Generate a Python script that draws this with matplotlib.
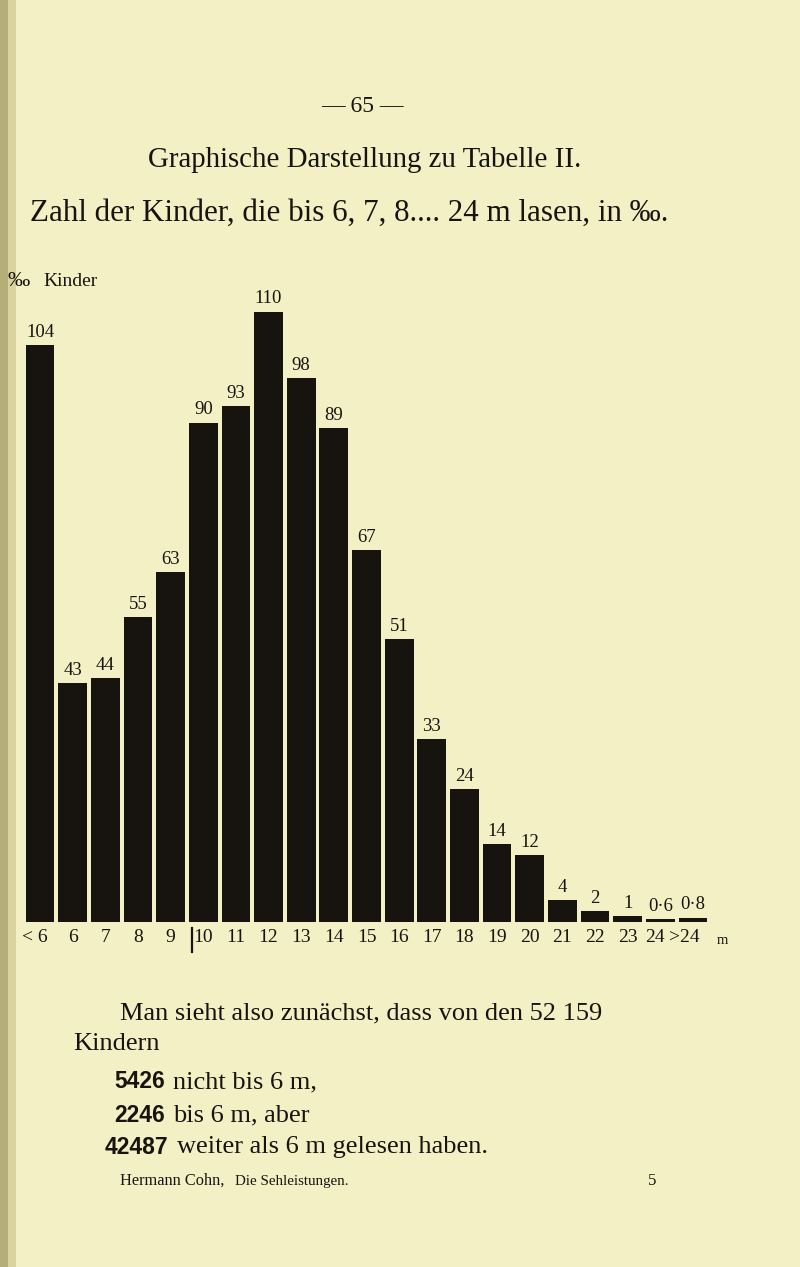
import matplotlib
matplotlib.use("Agg")
import matplotlib.pyplot as plt
import matplotlib.transforms as mtransforms
from matplotlib.patches import Rectangle

# ---- data ----
categories = ["< 6", "6", "7", "8", "9", "10", "11", "12", "13", "14", "15",
              "16", "17", "18", "19", "20", "21", "22", "23", "24", ">24"]
values = [104, 43, 44, 55, 63, 90, 93, 110, 98, 89, 67, 51, 33, 24, 14, 12,
          4, 2, 1, 0.6, 0.8]
value_labels = ["104", "43", "44", "55", "63", "90", "93", "110", "98", "89",
                "67", "51", "33", "24", "14", "12", "4", "2", "1", "0·6", "0·8"]

W, H = 800, 1267
BG = "#f3f0c5"
INK = "#17140f"
SERIF = ["Liberation Serif", "DejaVu Serif"]
BOLD = ["Liberation Sans", "DejaVu Sans"]

fig = plt.figure(figsize=(W / 100, H / 100), dpi=100, facecolor=BG)


def px(x, y):
    return x / W, 1 - y / H


def shift(label, dx):
    label.set_transform(label.get_transform() +
                        mtransforms.ScaledTranslation(dx / 100, 0, fig.dpi_scale_trans))


# binding strip on the left edge
fig.patches.append(Rectangle((0, 0), 8 / W, 1, transform=fig.transFigure,
                             facecolor="#b5ae78", edgecolor="none", zorder=0))
fig.patches.append(Rectangle((8 / W, 0), 8 / W, 1, transform=fig.transFigure,
                             facecolor="#d9d39f", edgecolor="none", zorder=0))

# ---- axes: bar centres at 40px .. 693px, baseline at y=922px ----
step = (693 - 40) / 20
left_px = 40 - step / 2
right_px = 693 + step / 2
base_px = 922
ymax = 120
scale = 5.55
ax = fig.add_axes([left_px / W, (H - base_px) / H, (right_px - left_px) / W,
                   ymax * scale / H])
ax.set_facecolor("none")
ax.set_xlim(-0.5, len(values) - 0.5)
ax.set_ylim(0, ymax)
for s in ax.spines.values():
    s.set_visible(False)
ax.tick_params(length=0)
ax.set_yticks([])

xs = list(range(len(values)))
ax.bar(xs, values, width=0.88, color=INK, edgecolor="none")

for x, v, lab in zip(xs, values, value_labels):
    ax.annotate(lab, (x, v), xytext=(0, 3), textcoords="offset points",
                ha="center", va="bottom", fontsize=13.5, family=SERIF,
                color=INK)

ax.set_xticks(xs)
ax.set_xticklabels(categories, fontsize=14, family=SERIF, color=INK)
ax.tick_params(axis="x", pad=5)
labs = ax.get_xticklabels()
shift(labs[0], -5)
shift(labs[-2], -5)
shift(labs[-1], -9)

# divider mark before "10"
trans = mtransforms.blended_transform_factory(ax.transData, ax.transAxes)
ax.plot([4.66, 4.66], [-0.009, -0.045], color=INK, lw=1.6,
        transform=trans, clip_on=False)
# unit "m"
ax.text(20.9, -0.0275, "m", transform=trans, ha="center", va="center",
        fontsize=10.5, family=SERIF, color=INK, clip_on=False)

# ---- page texts ----
fig.text(*px(362, 107), "— 65 —", ha="center", va="center", fontsize=17,
         family=SERIF, color=INK)
fig.text(*px(365, 160), "Graphische Darstellung zu Tabelle II.", ha="center",
         va="center", fontsize=20.8, family=SERIF, color=INK)
fig.text(*px(30, 213), "Zahl der Kinder, die bis 6, 7, 8.... 24 m lasen, in ‰.",
         ha="left", va="center", fontsize=22.3, family=SERIF, color=INK)
fig.text(*px(8, 282), "‰", ha="left", va="center", fontsize=16,
         family=SERIF, color=INK)
fig.text(*px(43, 282), "Kinder", ha="left", va="center", fontsize=14,
         family=SERIF, color=INK)

fig.text(*px(120, 1013), "Man sieht also zunächst, dass von den 52 159",
         ha="left", va="center", fontsize=19, family=SERIF, color=INK)
fig.text(*px(73, 1044), "Kindern", ha="left", va="center", fontsize=19,
         family=SERIF, color=INK)

rows = [("5426", "nicht bis 6 m,", 114, 1082),
        ("2246", "bis 6 m, aber", 114, 1115),
        ("42487", "weiter als 6 m gelesen haben.", 105, 1147)]
for num, rest, x0, y0 in rows:
    t = fig.text(*px(x0, y0), num, ha="left", va="center", fontsize=16.5,
                 family=BOLD, weight="bold", color=INK)
    fig.canvas.draw()
    bb = t.get_window_extent()
    fig.text(bb.x1 / W + 8 / W, 1 - y0 / H, rest, ha="left", va="center",
             fontsize=19, family=SERIF, color=INK)

fig.text(*px(120, 1181), "Hermann Cohn,", ha="left", va="center",
         fontsize=11.8, family=SERIF, color=INK)
fig.text(*px(235, 1181), "Die Sehleistungen.", ha="left", va="center",
         fontsize=10.8, family=SERIF, color=INK)
fig.text(*px(652, 1181), "5", ha="center", va="center", fontsize=12,
         family=SERIF, color=INK)

fig.savefig("out.png", dpi=100, facecolor=BG)
